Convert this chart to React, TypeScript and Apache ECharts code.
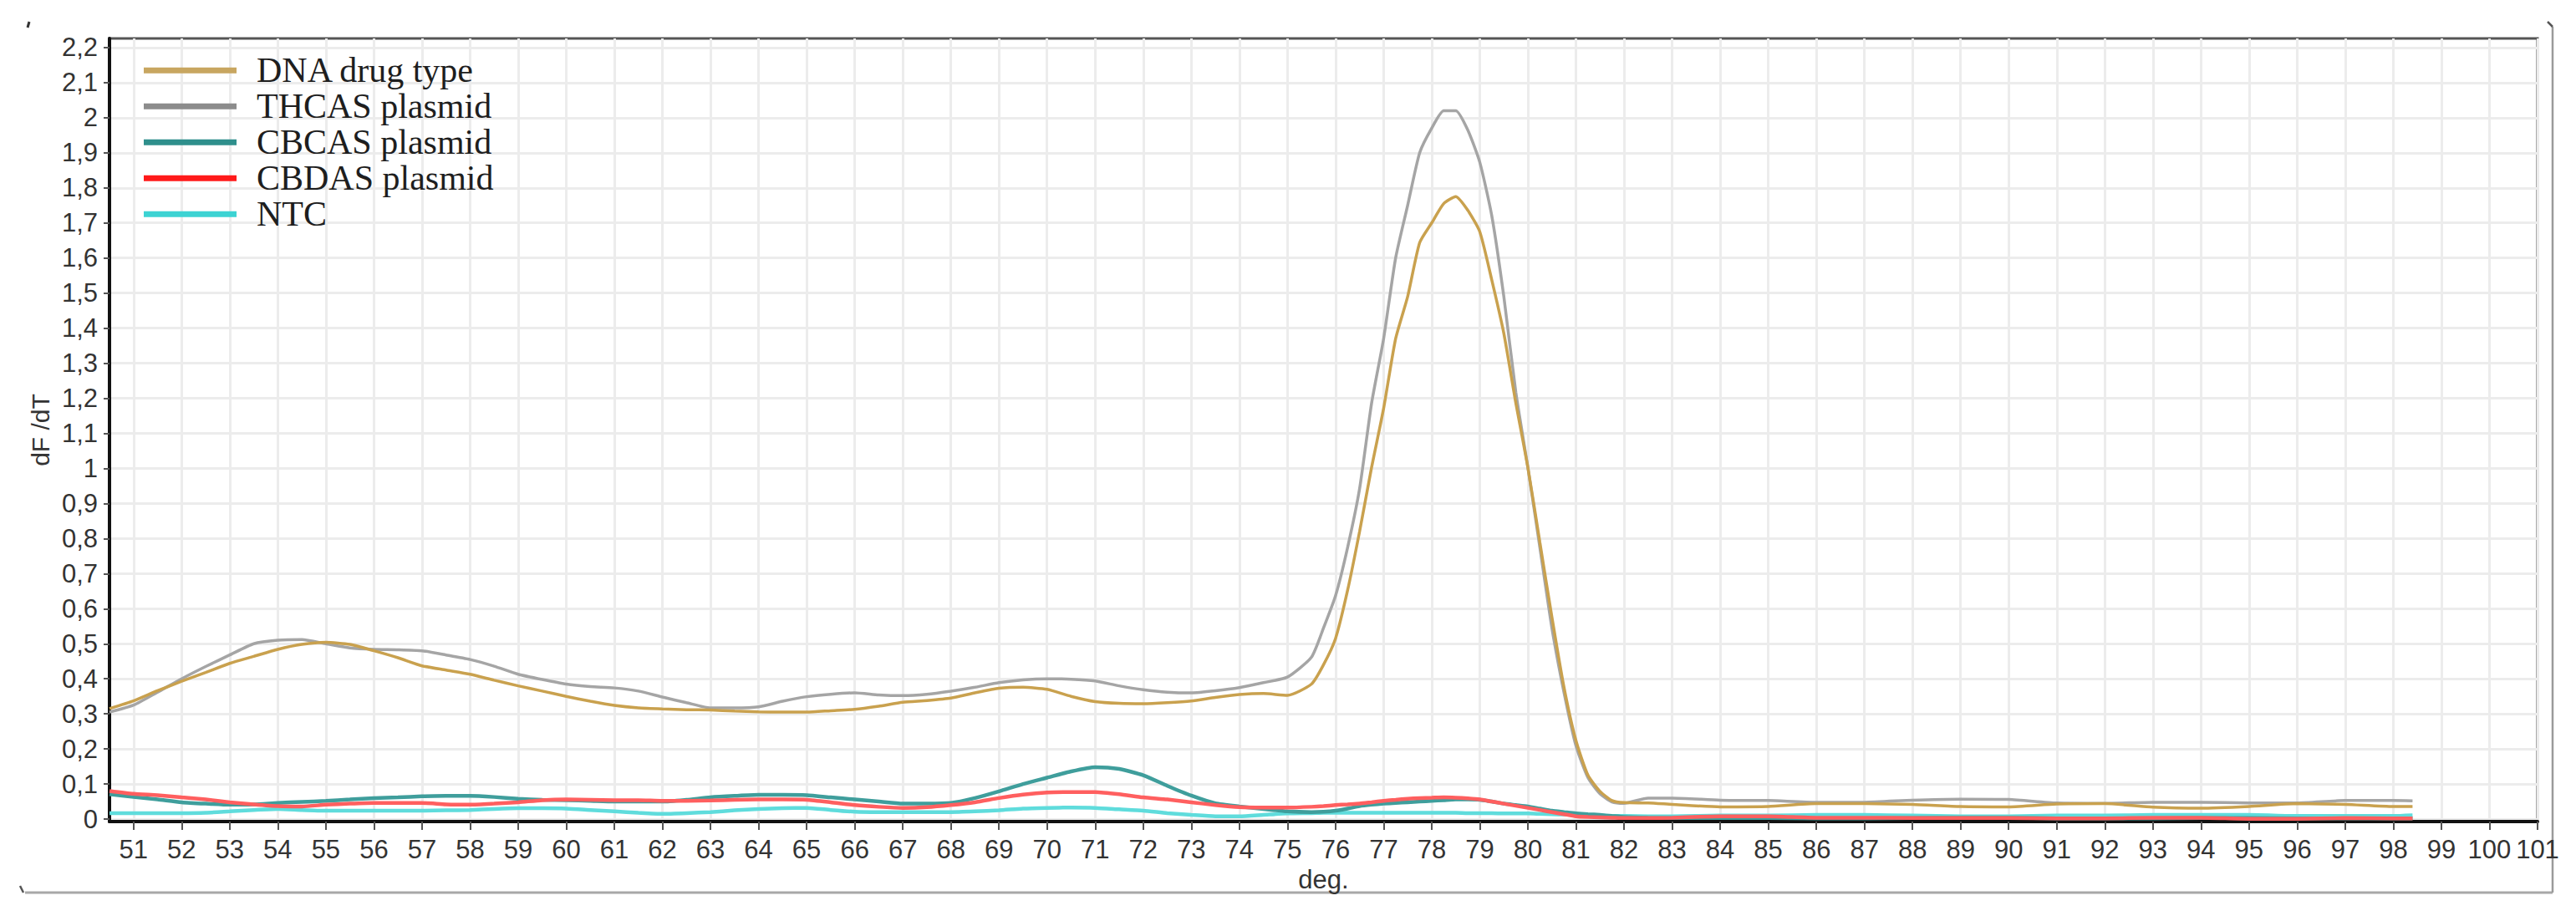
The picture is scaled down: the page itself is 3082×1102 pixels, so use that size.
import React, { useEffect, useRef } from "react";
import * as echarts from "echarts";

// Temperatures (deg.) at which the melt-curve values were read
const temps = [
  50.5, 51, 51.5, 52, 52.5, 53, 53.5, 54, 54.5, 55, 55.5, 56, 56.5, 57, 57.5, 58, 58.5, 59, 59.5, 60,
  60.5, 61, 61.5, 62, 62.5, 63, 63.5, 64, 64.5, 65, 65.5, 66, 66.5, 67, 67.5, 68, 68.5, 69, 69.5, 70,
  70.5, 71, 71.5, 72, 72.5, 73, 73.5, 74, 74.5, 75, 75.5,
  75.75, 76, 76.25, 76.5, 76.75, 77, 77.25, 77.5, 77.75, 78, 78.25, 78.5, 78.75, 79, 79.25, 79.5, 79.75,
  80, 80.25, 80.5, 80.75, 81, 81.25, 81.5, 81.75, 82,
  82.5, 83, 84, 85, 86, 87, 88, 89, 90, 91, 92, 93, 94, 95, 96, 97, 98, 98.4,
];

const dnaDrugType = [
  0.315, 0.337, 0.366, 0.393, 0.418, 0.444, 0.464, 0.484, 0.498, 0.504, 0.498, 0.48, 0.46, 0.437, 0.425, 0.413, 0.396, 0.38, 0.365, 0.35,
  0.336, 0.324, 0.317, 0.314, 0.312, 0.311, 0.308, 0.306, 0.305, 0.305, 0.309, 0.313, 0.322, 0.333, 0.338, 0.345, 0.36, 0.373, 0.376, 0.37,
  0.35, 0.335, 0.33, 0.329, 0.332, 0.337, 0.347, 0.355, 0.358, 0.353, 0.385,
  0.44, 0.515, 0.652, 0.82, 1.003, 1.171, 1.37, 1.49, 1.644, 1.7, 1.755, 1.775, 1.736, 1.675, 1.537, 1.385, 1.186,
  1.003, 0.789, 0.576, 0.377, 0.224, 0.125, 0.079, 0.053, 0.047,
  0.046, 0.042, 0.035, 0.036, 0.044, 0.044, 0.042, 0.036, 0.035, 0.043, 0.044, 0.034, 0.031, 0.036, 0.044, 0.042, 0.036, 0.036,
];

const thcasPlasmid = [
  0.305, 0.325, 0.362, 0.4, 0.435, 0.468, 0.5, 0.51, 0.512, 0.5, 0.488, 0.484, 0.483, 0.48, 0.468, 0.455, 0.436, 0.413, 0.398, 0.385,
  0.378, 0.374, 0.365, 0.348, 0.332, 0.317, 0.317, 0.32, 0.336, 0.349, 0.356, 0.36, 0.354, 0.352, 0.356, 0.365, 0.376, 0.389, 0.397, 0.4,
  0.399, 0.394, 0.38, 0.369, 0.362, 0.36, 0.366, 0.375, 0.389, 0.405, 0.462,
  0.545, 0.637, 0.774, 0.942, 1.186, 1.37, 1.6, 1.75, 1.9, 1.97, 2.02, 2.02, 1.965, 1.873, 1.72, 1.49, 1.217,
  1.003, 0.774, 0.545, 0.362, 0.209, 0.118, 0.072, 0.049, 0.045,
  0.06, 0.06, 0.054, 0.053, 0.048, 0.048, 0.054, 0.057, 0.056, 0.046, 0.045, 0.048, 0.048, 0.046, 0.046, 0.053, 0.053, 0.052,
];

const cbcasPlasmid = [
  0.071, 0.063, 0.056, 0.048, 0.044, 0.041, 0.042, 0.046, 0.049, 0.052, 0.056, 0.06, 0.062, 0.065, 0.066, 0.066, 0.063, 0.058, 0.055, 0.054,
  0.052, 0.05, 0.05, 0.05, 0.055, 0.062, 0.066, 0.069, 0.069, 0.068, 0.062, 0.056, 0.05, 0.044, 0.044, 0.046, 0.06, 0.079, 0.1, 0.118,
  0.136, 0.148, 0.143, 0.125, 0.095, 0.067, 0.045, 0.036, 0.029, 0.022, 0.02,
  0.021, 0.024, 0.03, 0.037, 0.041, 0.044, 0.046, 0.048, 0.05, 0.052, 0.054, 0.056, 0.056, 0.055, 0.05, 0.044, 0.04,
  0.036, 0.03, 0.024, 0.02, 0.016, 0.014, 0.012, 0.009, 0.006,
  0.004, 0.003, 0.003, 0.003, 0.002, 0.002, 0.003, 0.004, 0.004, 0.002, 0.002, 0.002, 0.003, 0.003, 0.002, 0.002, 0.002, 0.002,
];

const cbdasPlasmid = [
  0.08, 0.072, 0.068, 0.062, 0.056, 0.048, 0.042, 0.037, 0.036, 0.041, 0.044, 0.046, 0.046, 0.046, 0.042, 0.041, 0.044, 0.048, 0.054, 0.056,
  0.055, 0.054, 0.054, 0.052, 0.052, 0.053, 0.055, 0.056, 0.056, 0.055, 0.048, 0.04, 0.035, 0.032, 0.034, 0.04, 0.048, 0.06, 0.07, 0.076,
  0.077, 0.077, 0.071, 0.062, 0.056, 0.048, 0.04, 0.034, 0.033, 0.033, 0.035,
  0.037, 0.04, 0.042, 0.044, 0.048, 0.052, 0.055, 0.058, 0.06, 0.061, 0.062, 0.061, 0.059, 0.056, 0.05, 0.044, 0.038,
  0.032, 0.026, 0.02, 0.014, 0.008, 0.006, 0.005, 0.004, 0.003,
  0.003, 0.004, 0.008, 0.008, 0.004, 0.004, 0.003, 0.003, 0.003, 0.002, 0.002, 0.004, 0.004, 0.001, 0.001, 0.003, 0.002, 0.002,
];

const ntc = [
  0.017, 0.017, 0.017, 0.017, 0.018, 0.022, 0.026, 0.029, 0.026, 0.024, 0.024, 0.024, 0.024, 0.024, 0.025, 0.026, 0.029, 0.031, 0.031, 0.03,
  0.026, 0.022, 0.018, 0.015, 0.017, 0.02, 0.025, 0.029, 0.031, 0.032, 0.026, 0.021, 0.02, 0.02, 0.02, 0.02, 0.022, 0.025, 0.03, 0.032,
  0.033, 0.032, 0.028, 0.024, 0.017, 0.012, 0.008, 0.008, 0.012, 0.016, 0.017,
  0.018, 0.018, 0.018, 0.018, 0.018, 0.018, 0.018, 0.018, 0.018, 0.018, 0.018, 0.018, 0.017, 0.017, 0.017, 0.016, 0.016,
  0.016, 0.015, 0.014, 0.013, 0.012, 0.011, 0.01, 0.009, 0.009,
  0.008, 0.008, 0.01, 0.01, 0.012, 0.012, 0.01, 0.008, 0.008, 0.01, 0.01, 0.012, 0.012, 0.012, 0.009, 0.009, 0.009, 0.011,
];

const seriesNames = ["DNA drug type", "THCAS plasmid", "CBCAS plasmid", "CBDAS plasmid", "NTC"];

const xTicks = [
  51, 52, 53, 54, 55, 56, 57, 58, 59, 60, 61, 62, 63, 64, 65, 66, 67, 68, 69, 70, 71, 72, 73, 74, 75, 76,
  77, 78, 79, 80, 81, 82, 83, 84, 85, 86, 87, 88, 89, 90, 91, 92, 93, 94, 95, 96, 97, 98, 99, 100, 101,
];

const yTicks = [
  0, 0.1, 0.2, 0.3, 0.4, 0.5, 0.6, 0.7, 0.8, 0.9, 1, 1.1, 1.2, 1.3, 1.4, 1.5, 1.6, 1.7, 1.8, 1.9, 2, 2.1, 2.2,
];

export default function App() {
  const ref = useRef<HTMLDivElement>(null);

  useEffect(() => {
    if (!ref.current) return;
    const chart = echarts.init(ref.current, null, { renderer: "svg" });
    const axisFont = "'Liberation Sans Narrow', 'Arial Narrow', 'Liberation Sans', Arial, sans-serif";

    const mk = (name: string, values: number[], lineColor: string, legendColor: string, width: number) => ({
      name,
      type: "line",
      data: temps.map((t, i) => [t, values[i]]),
      showSymbol: false,
      symbol: "none",
      smooth: 0.2,
      lineStyle: { color: lineColor, width },
      itemStyle: { color: legendColor },
      emphasis: { disabled: true },
    });

    chart.setOption({
      animation: false,
      backgroundColor: "#ffffff",
      grid: {
        left: 131,
        top: 46,
        width: 2905,
        height: 937,
        show: true,
        borderColor: "#555555",
        borderWidth: 3,
        backgroundColor: "transparent",
      },
      legend: {
        show: true,
        orient: "vertical",
        left: 172,
        top: 63,
        padding: 0,
        itemGap: 0.5,
        itemWidth: 111,
        itemHeight: 7,
        icon: "rect",
        selectedMode: false,
        data: [
          { name: seriesNames[0], itemStyle: { color: "#c8a660" } },
          { name: seriesNames[1], itemStyle: { color: "#8c8c8c" } },
          { name: seriesNames[2], itemStyle: { color: "#2f8f8c" } },
          { name: seriesNames[3], itemStyle: { color: "#ff1a1a" } },
          { name: seriesNames[4], itemStyle: { color: "#3cd3d3" } },
        ],
        textStyle: {
          fontFamily: "'Liberation Serif', 'Times New Roman', serif",
          fontSize: 42,
          color: "#1e1e1e",
          lineHeight: 42.5,
          padding: [0, 0, 0, 19],
        },
      },
      xAxis: {
        type: "value",
        min: 50.5,
        max: 101,
        name: "deg.",
        nameLocation: "middle",
        nameGap: 52,
        nameTextStyle: { fontFamily: axisFont, fontSize: 31, color: "#333333" },
        axisLine: { show: true, onZero: false, lineStyle: { color: "#111111", width: 4 } },
        axisTick: { show: true, customValues: xTicks, length: 10, lineStyle: { color: "#555555", width: 2 } },
        axisLabel: {
          customValues: xTicks,
          fontFamily: axisFont,
          fontSize: 31,
          color: "#333333",
          margin: 18,
        },
        splitLine: { show: true, lineStyle: { color: "#ececec", width: 3 } },
      },
      yAxis: {
        type: "value",
        min: -0.007,
        max: 2.226,
        name: "dF /dT",
        nameLocation: "middle",
        nameGap: 68,
        nameRotate: 90,
        nameTextStyle: { fontFamily: axisFont, fontSize: 30, color: "#333333" },
        axisLine: { show: true, onZero: false, lineStyle: { color: "#111111", width: 4 } },
        axisTick: { show: true, customValues: yTicks, length: 7, lineStyle: { color: "#555555", width: 2 } },
        axisLabel: {
          customValues: yTicks,
          fontFamily: axisFont,
          fontSize: 31,
          color: "#333333",
          margin: 14,
          formatter: (v: number) => String(v).replace(".", ","),
        },
        splitLine: { show: true, lineStyle: { color: "#ececec", width: 3 } },
      },
      graphic: [
        { type: "line", shape: { x1: 30, y1: 1068, x2: 3054, y2: 1068 }, style: { stroke: "#a8a8a8", lineWidth: 3 } },
        { type: "line", shape: { x1: 3054, y1: 32, x2: 3054, y2: 1068 }, style: { stroke: "#9a9a9a", lineWidth: 2.5 } },
        { type: "line", shape: { x1: 3048, y1: 26, x2: 3054, y2: 32 }, style: { stroke: "#555555", lineWidth: 2.5 } },
        { type: "line", shape: { x1: 24, y1: 1060, x2: 28, y2: 1068 }, style: { stroke: "#555555", lineWidth: 2.5 } },
        { type: "line", shape: { x1: 35, y1: 26, x2: 33, y2: 33 }, style: { stroke: "#333333", lineWidth: 3 } },
      ],
      series: [
        mk(seriesNames[4], ntc, "#5fdcdc", "#3cd3d3", 4.5),
        mk(seriesNames[2], cbcasPlasmid, "#3f9e9c", "#2f8f8c", 4.5),
        mk(seriesNames[3], cbdasPlasmid, "#ff5f5f", "#ff1a1a", 4.5),
        mk(seriesNames[1], thcasPlasmid, "#a5a5a5", "#8c8c8c", 3.5),
        mk(seriesNames[0], dnaDrugType, "#c9a14e", "#c8a660", 3.5),
      ],
    });

    return () => chart.dispose();
  }, []);

  return (
    <div
      ref={ref}
      style={{ position: "absolute", left: 0, top: 0, width: 3082, height: 1102, background: "#ffffff" }}
    />
  );
}
